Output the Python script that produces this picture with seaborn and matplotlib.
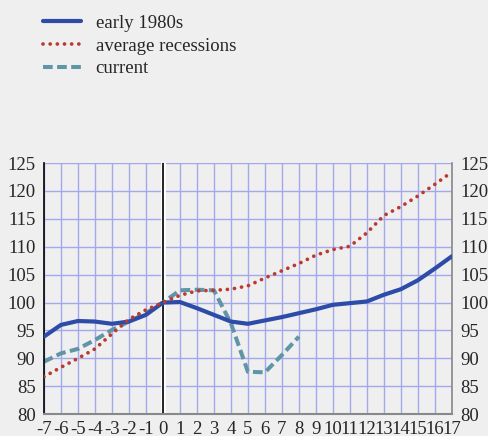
import matplotlib
matplotlib.use("Agg")
import matplotlib.pyplot as plt
import seaborn as sns
import pandas as pd

# ========= Data =========
quarters = list(range(-7, 18))

early_1980s = [93.9, 96.0, 96.7, 96.6, 96.2, 96.6, 97.8, 100.0, 100.1, 99.0,
               97.8, 96.6, 96.2, 96.8, 97.4, 98.1, 98.8, 99.6, 99.9, 100.2,
               101.4, 102.4, 104.0, 106.1, 108.3]

avg_recessions = [86.7, 88.4, 90.0, 91.7, 94.4, 97.0, 98.7, 100.0, 101.3, 102.1,
                  102.2, 102.4, 103.0, 104.4, 105.7, 107.0, 108.5, 109.5, 110.1, 112.5,
                  115.6, 117.2, 119.1, 121.2, 123.4]

current_q = list(range(-7, 9))
current = [89.4, 90.9, 91.7, 93.3, 95.1, 96.6, 98.1, 100.0, 102.2, 102.3,
           102.2, 96.3, 87.6, 87.5, 90.6, 93.9]

# ========= Style =========
sns.set_style("white")
plt.rcParams["font.family"] = ["Liberation Serif", "DejaVu Serif"]
plt.rcParams["axes.unicode_minus"] = False
bg = "#efefef"

fig, ax = plt.subplots(figsize=(4.88, 4.36), dpi=100)
fig.patch.set_facecolor(bg)
ax.set_facecolor(bg)
fig.subplots_adjust(left=0.090, right=0.926, bottom=0.050, top=0.626)

df_early = pd.DataFrame({"q": quarters, "v": early_1980s})
df_avg = pd.DataFrame({"q": quarters, "v": avg_recessions})
df_cur = pd.DataFrame({"q": current_q, "v": current})

# white-backed vertical line at quarter 0
ax.axvline(0, color="white", lw=3.5, zorder=1)
ax.axvline(0, color="black", lw=1.2, zorder=1.5)

sns.lineplot(data=df_early, x="q", y="v", ax=ax, color="#2c4ca8", lw=3.0,
             label="early 1980s", zorder=3)
sns.lineplot(data=df_avg, x="q", y="v", ax=ax, color="#bb3a30", lw=2.7,
             linestyle=(0, (0.01, 1.9)), dash_capstyle="round",
             label="average recessions", zorder=3)
sns.lineplot(data=df_cur, x="q", y="v", ax=ax, color="#5f95a6", lw=2.9,
             linestyle=(0, (2.4, 1.1)), label="current", zorder=2)

ax.set_xlim(-7, 17)
ax.set_ylim(80, 125)
ax.set_xticks(quarters)
ax.set_yticks(range(80, 126, 5))
ax.grid(True, color="#a4a8ea", lw=1.0, zorder=0)
ax.set_axisbelow(True)
ax.set_xlabel("")
ax.set_ylabel("")

ax.tick_params(axis="x", direction="out", length=4, width=1, color="black",
               labelsize=13.5, pad=1)
ax.tick_params(axis="y", length=0, labelsize=13.5, labelright=True, pad=6)

ax.spines["top"].set_visible(False)
ax.spines["left"].set_color("black")
ax.spines["left"].set_linewidth(1.2)
ax.spines["right"].set_color("#888888")
ax.spines["right"].set_linewidth(1.2)
ax.spines["bottom"].set_color("#888888")
ax.spines["bottom"].set_linewidth(1.5)

ax.get_legend().remove()
handles, labels = ax.get_legend_handles_labels()
fig.legend(handles, labels, loc="upper left", bbox_to_anchor=(0.054, 1.005),
           frameon=False, fontsize=13.5, handlelength=2.0, handletextpad=0.8,
           labelspacing=0.3)

fig.savefig("out.png", dpi=100, facecolor=bg)
